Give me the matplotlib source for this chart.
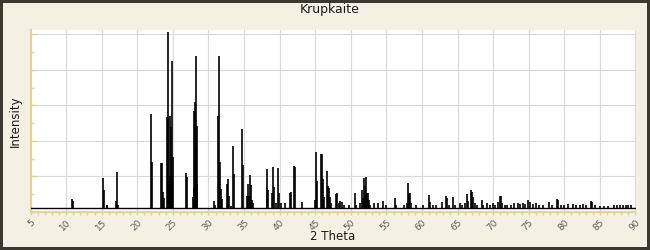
import matplotlib
matplotlib.use("Agg")
import matplotlib.pyplot as plt
from matplotlib.ticker import MultipleLocator

# peak positions (2 theta) and intensities
two_theta = [
    10.87, 11.0,
    15.23, 15.37, 15.7, 15.8,
    17.06, 17.2, 17.34,
    21.9, 21.97, 22.1,
    23.38, 23.5, 23.6, 23.76,
    24.22, 24.29, 24.36, 24.46, 24.55, 24.64, 24.74, 24.83, 24.92, 25.06,
    26.85, 27.0,
    27.87, 27.92, 28.0, 28.08, 28.15, 28.22, 28.3, 28.38, 28.43,
    30.82, 30.95,
    31.3, 31.44, 31.58, 31.76, 31.9,
    32.56, 32.7, 32.85,
    33.21, 33.5, 33.64,
    34.76, 34.9,
    35.37, 35.51, 35.65, 35.88, 36.02, 36.16, 36.3,
    38.18, 38.27, 38.41,
    38.97, 39.11, 39.25, 39.53,
    39.81, 39.95, 40.2, 40.8,
    41.5, 41.64, 42.06, 42.2, 43.1,
    44.93, 45.07, 45.2,
    45.77, 45.9, 46.05, 46.2,
    46.6, 46.74, 46.88, 47.07, 47.2,
    47.96, 48.1, 48.3, 48.5, 48.7, 49.0, 49.75,
    50.6, 50.8,
    51.3, 51.53, 51.65, 51.82, 51.96, 52.06, 52.18, 52.3, 52.38, 52.5, 52.7,
    53.26, 53.86, 54.48, 55.0,
    56.2, 56.4,
    57.5, 57.9, 58.08, 58.2, 58.3, 58.5, 59.2,
    60.2, 61.03, 61.17, 61.6, 62.0, 62.85, 63.33, 63.47, 63.8, 64.4, 64.7,
    65.3, 65.6, 66.0, 66.28, 66.5, 66.84, 66.98, 67.2, 67.4, 67.7,
    68.37, 68.6, 69.1, 69.5, 69.93, 70.3, 70.75, 70.9, 71.06, 71.2, 71.6,
    72.0, 72.5, 72.96, 73.5, 73.8, 74.2, 74.5, 74.94, 75.2, 75.6, 76.0,
    76.5, 77.0, 77.85, 78.3, 79.0, 79.14, 79.5, 80.0, 80.5, 81.15, 81.7,
    82.2, 82.66, 83.1, 83.7, 83.93, 84.3, 85.0, 85.6, 86.2, 87.0, 87.4,
    87.8, 88.2, 88.6, 89.0, 89.4,
]
intensity = [
    7.3, 6.2,
    19, 12.4, 4, 4,
    6, 22.5, 4,
    3, 55, 28,
    27.6, 27.6, 11.4, 7.9,
    53.5, 53, 101.4, 15.8, 20, 54.3, 48, 20, 85, 31,
    22, 19.7,
    8.5, 13.7, 57, 30, 62, 35, 88, 16, 48.5,
    6, 4,
    54, 88, 28, 13, 7.5,
    15.8, 18.8, 9,
    3.4, 37, 21.4,
    47, 26.5,
    9, 15.8, 9, 20.8, 15.4, 6.8, 5,
    13.4, 24, 12.4,
    10.5, 25.5, 14.3, 5,
    25, 10.5, 5, 5,
    10.5, 11.4, 26, 25.5, 5.8,
    6.8, 33.8, 17.5,
    32.7, 32.7, 18.8, 8.6,
    23, 14.6, 13.4, 8.6, 5,
    10, 10.5, 5, 6, 5.8, 4, 4,
    10.9, 4,
    5, 12.4, 8, 19.3, 14.8, 9, 19.9, 10.9, 10.9, 6.8, 4,
    4.9, 4.9, 6.2, 4,
    8, 4,
    4, 5, 16.1, 10.9, 10.5, 5.2, 4,
    4, 9.6, 5.6, 4, 4, 5.6, 9.2, 7.7, 4, 8.6, 4,
    5.2, 4, 5, 10, 6, 12.4, 11.4, 8.6, 4.9, 4,
    6.8, 4, 5.2, 4, 5.2, 4, 5.8, 9.2, 9.2, 5, 4,
    4, 4, 5.2, 4.9, 4.5, 4.9, 4.5, 6.8, 5.8, 4.5, 4.9,
    4, 4, 5.8, 4, 7.3, 6.8, 4, 4, 4.5, 4.5, 4,
    4, 4.5, 4, 6.2, 5.8, 4, 3.5, 3.5, 3.5, 4, 4,
    4, 4, 4, 4, 4,
]
baseline = 2.1
x_range = (5, 90)

bg = '#F4F1E4'
axis_yellow = '#DDD49A'

fig = plt.figure(figsize=(6.5, 2.5), dpi=100, facecolor=bg)
fig.patch.set_edgecolor('#3B382F')
fig.patch.set_linewidth(3)
ax = fig.add_axes([30.5 / 650, 38 / 250, 605 / 650, 182 / 250])
ax.set_facecolor('white')

# baseline + sticks
ax.plot(x_range, [baseline, baseline], color='black', lw=1.0, zorder=3)
ax.vlines(two_theta, baseline, intensity, color='black', lw=1.2, zorder=3)

ax.set_xlim(*x_range)
ax.set_ylim(0, 102.5)
ax.xaxis.set_major_locator(MultipleLocator(5))
ax.xaxis.set_minor_locator(MultipleLocator(1))
ax.yaxis.set_major_locator(MultipleLocator(20))
ax.yaxis.set_minor_locator(MultipleLocator(10))
ax.grid(which='major', color='#D9D9D9', lw=0.8, zorder=0)
ax.set_axisbelow(True)

for side in ['top', 'right']:
    ax.spines[side].set_visible(False)
for side in ['left', 'bottom']:
    ax.spines[side].set_color(axis_yellow)
    ax.spines[side].set_linewidth(1.5)

ax.tick_params(axis='x', which='both', direction='out', length=2.5,
               color=axis_yellow, width=1.0)
ax.tick_params(axis='x', which='major', labelsize=6.5, labelcolor='#5A5A5A', pad=2)
ax.tick_params(axis='y', which='major', direction='in', length=4,
               color=axis_yellow, width=1.0, labelleft=False)
ax.tick_params(axis='y', which='minor', direction='in', length=2.5,
               color=axis_yellow, width=1.0)
for lab in ax.get_xticklabels():
    lab.set_rotation(45)
    lab.set_ha('right')
    lab.set_va('top')
    lab.set_rotation_mode('anchor')

ax.set_xlabel('2 Theta', fontsize=8.5, color='#1A1A1A', labelpad=-2)
ax.set_ylabel('Intensity', fontsize=8.5, color='#1A1A1A', labelpad=3)
fig.text(0.507, 0.96, 'Krupkaite', ha='center', va='center', fontsize=9, color='#1A1A1A')

fig.savefig('out.png', dpi=100, facecolor=fig.get_facecolor(), edgecolor=fig.get_edgecolor())
